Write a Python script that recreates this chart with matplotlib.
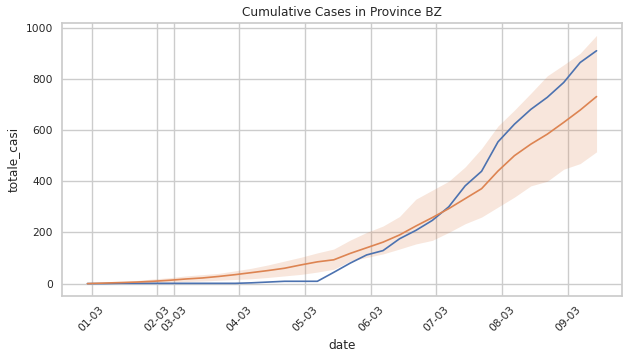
import matplotlib
matplotlib.use("Agg")
import matplotlib.pyplot as plt
import pandas as pd
import seaborn as sns

dates = pd.date_range("2020-02-24 18:00", periods=32, freq="D")

bz_cases = [0, 0, 1, 1, 1, 1, 1, 1, 1, 1, 3, 6, 9, 9, 9, 44,
            80, 112, 129, 175, 208, 247, 300, 382, 439, 554, 623, 681, 728, 786, 864, 910]

mean_cases = [0, 2, 4, 6, 9, 13, 18, 22, 28, 35, 43, 51, 60, 73, 85, 93,
              118, 140, 162, 190, 225, 258, 293, 332, 371, 440, 500, 545, 584, 630, 678, 731]

ci_upper = [0, 3, 7, 12, 18, 23, 30, 35, 40, 50, 60, 73, 88, 103, 120, 135,
            170, 200, 225, 262, 330, 365, 400, 456, 528, 616, 678, 744, 812, 855, 900, 970]

ci_lower = [0, 1, 2, 3, 4, 6, 8, 10, 13, 16, 19, 24, 30, 36, 45, 56,
            88, 102, 116, 135, 155, 169, 200, 234, 260, 299, 338, 382, 400, 447, 469, 515]

tick_dates = pd.to_datetime(["2020-02-25", "2020-02-29", "2020-03-01", "2020-03-05",
                             "2020-03-09", "2020-03-13", "2020-03-17", "2020-03-21", "2020-03-25"])
tick_labels = ["01-03", "02-03", "03-03", "04-03", "05-03", "06-03", "07-03", "08-03", "09-03"]

sns.set_theme(style="whitegrid")
plt.rcParams["font.family"] = ["DejaVu Sans"]
blue, orange = sns.color_palette("deep")[0], sns.color_palette("deep")[1]

fig = plt.figure(figsize=(6.26, 3.58), dpi=100)
ax = fig.add_axes([62 / 626, 1 - 296 / 358, 560 / 626, 273 / 358])

ax.plot(dates, bz_cases, color=blue, lw=1.2)
ax.plot(dates, mean_cases, color=orange, lw=1.2)
ax.fill_between(dates, ci_lower, ci_upper, color=orange, alpha=0.2, lw=0)

ax.set_xticks(tick_dates)
ax.set_xticklabels(tick_labels, rotation=45, fontsize=7.7)
ax.set_yticks([0, 200, 400, 600, 800, 1000])
ax.tick_params(axis="both", length=0)
ax.tick_params(axis="x", pad=6.2)
ax.tick_params(axis="y", labelsize=7.7, pad=6.5)
ax.set_xlabel("date", fontsize=8.7, labelpad=4)
ax.set_ylabel("totale_casi", fontsize=8.7, labelpad=4)
ax.set_title("Cumulative Cases in Province BZ", fontsize=8.7, pad=5)

fig.savefig("out.png", dpi=100)
